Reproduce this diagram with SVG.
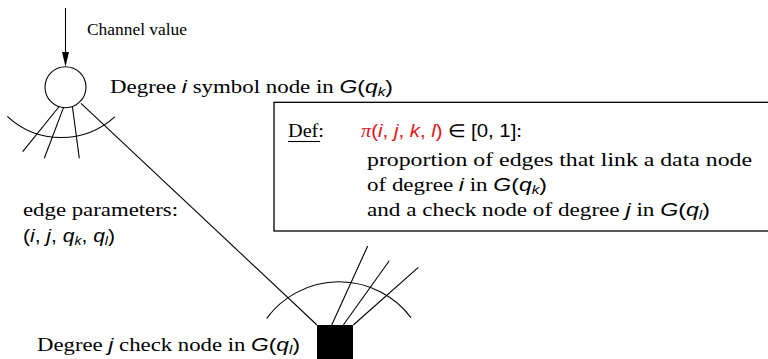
<svg xmlns="http://www.w3.org/2000/svg" width="768" height="359" viewBox="0 0 768 359">
<style>
.ln{stroke:#000;stroke-width:1.1;fill:none}
.t{font-family:"Liberation Serif",serif;font-size:18px;fill:#000}
.tv{font-family:"Liberation Serif",serif;font-size:16.5px;fill:#000}
.m{font-family:"Liberation Sans",sans-serif;font-style:italic}
.mu{font-family:"Liberation Sans",sans-serif;font-style:normal}
.s{font-size:12px}
.red{fill:#e8141c}
</style>
<g id="connectors">
<line class="ln" x1="65.5" y1="8" x2="65.5" y2="53"/>
<polygon points="62,52 69,52 65.5,66.5" fill="#000"/>
<line class="ln" x1="81" y1="103.3" x2="317" y2="325"/>
</g>
<g id="symbol-node">
<circle class="ln" cx="65.5" cy="87.2" r="20.5"/>
<path class="ln" d="M7.3 116.3 A79.4 79.4 0 0 0 115 116.7"/>
<line class="ln" x1="58.8" y1="107" x2="22.7" y2="151.7"/>
<line class="ln" x1="63.5" y1="107.6" x2="44.3" y2="158.3"/>
<line class="ln" x1="72.4" y1="106.5" x2="79.3" y2="158.3"/>
</g>
<g id="check-node">
<rect x="317" y="325" width="36" height="40" fill="#000"/>
<path class="ln" d="M266.7 318.3 A90 90 0 0 1 411 317.7"/>
<line class="ln" x1="331.7" y1="325" x2="367.7" y2="246"/>
<line class="ln" x1="343.3" y1="325" x2="389.3" y2="260.7"/>
<line class="ln" x1="353.3" y1="325" x2="418.3" y2="267.3"/>
</g>
<g id="definition-box">
<rect x="274" y="102.3" width="530" height="128.7" fill="none" stroke="#000" stroke-width="1.3"/>
<text class="t" x="288" y="137" textLength="36" lengthAdjust="spacingAndGlyphs">Def:</text>
<line class="ln" x1="288" y1="141.5" x2="320" y2="141.5"/>
<text class="t" x="361" y="137" textLength="161" lengthAdjust="spacingAndGlyphs"><tspan class="red" font-style="italic">π</tspan><tspan class="mu red">(</tspan><tspan class="m red">i</tspan><tspan class="mu red">, </tspan><tspan class="m red">j</tspan><tspan class="mu red">, </tspan><tspan class="m red">k</tspan><tspan class="mu red">, </tspan><tspan class="m red">l</tspan><tspan class="mu red">)</tspan> ∈ <tspan class="mu">[0, 1]</tspan>:</text>
<text class="t" x="367" y="166" textLength="385" lengthAdjust="spacingAndGlyphs">proportion of edges that link a data node</text>
<text class="t" x="367" y="191" textLength="180" lengthAdjust="spacingAndGlyphs">of degree <tspan class="m">i</tspan> in <tspan class="m">G</tspan><tspan class="mu">(</tspan><tspan class="m">q</tspan><tspan class="m s" dy="3">k</tspan><tspan class="mu" dy="-3">)</tspan></text>
<text class="t" x="367" y="216" textLength="343" lengthAdjust="spacingAndGlyphs">and a check node of degree <tspan class="m">j</tspan> in <tspan class="m">G</tspan><tspan class="mu">(</tspan><tspan class="m">q</tspan><tspan class="m s" dy="3">l</tspan><tspan class="mu" dy="-3">)</tspan></text>
</g>
<g id="labels">
<text class="tv" x="87" y="35" textLength="100" lengthAdjust="spacingAndGlyphs">Channel value</text>
<text class="t" x="110" y="92.5" textLength="283" lengthAdjust="spacingAndGlyphs">Degree <tspan class="m">i</tspan> symbol node in <tspan class="m">G</tspan><tspan class="mu">(</tspan><tspan class="m">q</tspan><tspan class="m s" dy="3">k</tspan><tspan class="mu" dy="-3">)</tspan></text>
<text class="t" x="23" y="216" textLength="155" lengthAdjust="spacingAndGlyphs">edge parameters:</text>
<text class="t" x="23" y="242" textLength="92" lengthAdjust="spacingAndGlyphs"><tspan class="mu">(</tspan><tspan class="m">i</tspan><tspan class="mu">, </tspan><tspan class="m">j</tspan><tspan class="mu">, </tspan><tspan class="m">q</tspan><tspan class="m s" dy="3">k</tspan><tspan class="mu" dy="-3">, </tspan><tspan class="m">q</tspan><tspan class="m s" dy="3">l</tspan><tspan class="mu" dy="-3">)</tspan></text>
<text class="t" x="37" y="351" textLength="263" lengthAdjust="spacingAndGlyphs">Degree <tspan class="m">j</tspan> check node in <tspan class="m">G</tspan><tspan class="mu">(</tspan><tspan class="m">q</tspan><tspan class="m s" dy="3">l</tspan><tspan class="mu" dy="-3">)</tspan></text>
</g>
</svg>
